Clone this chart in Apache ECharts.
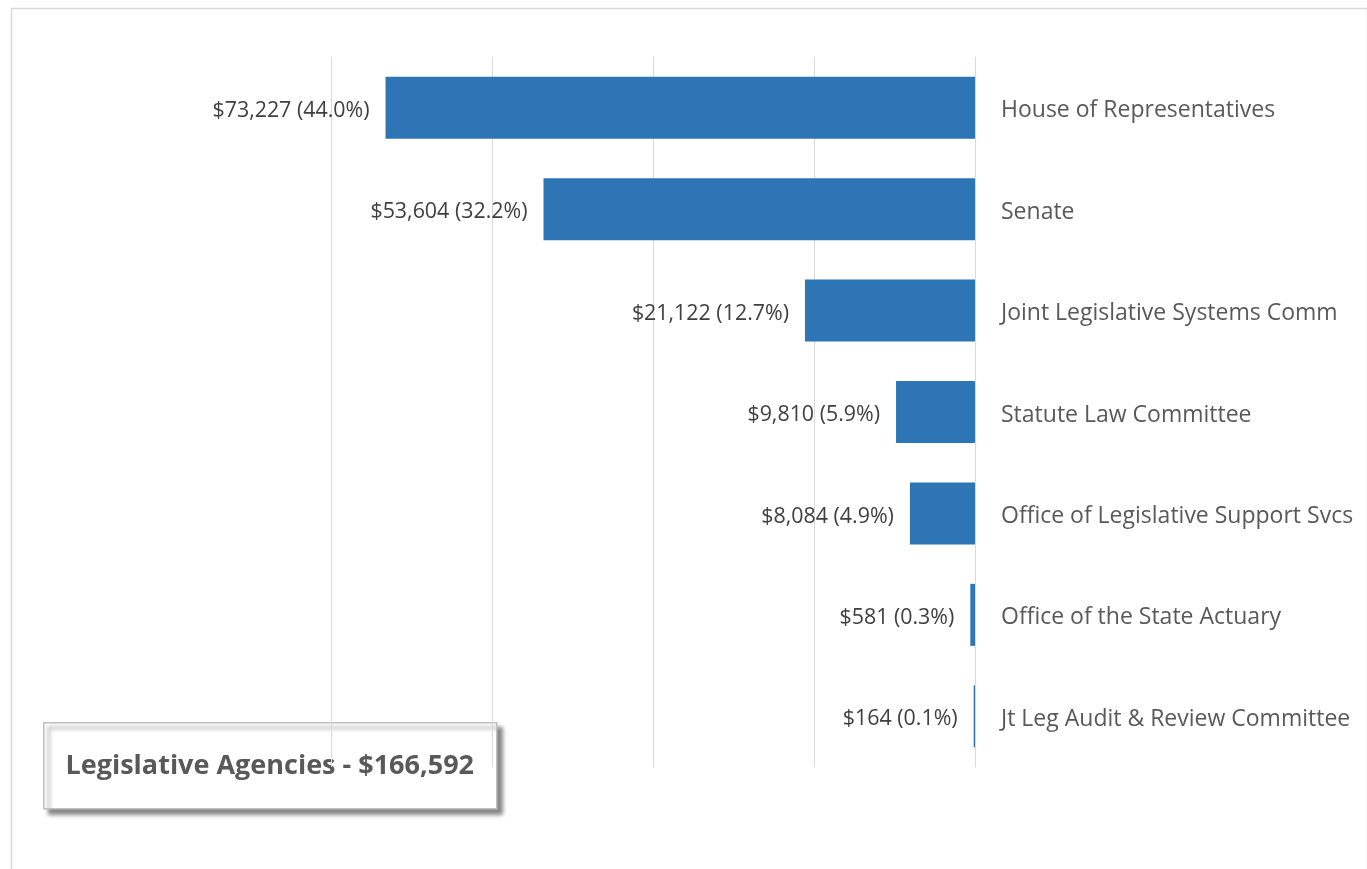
<!DOCTYPE html>
<html>
<head>
<meta charset="utf-8">
<script src="https://cdn.jsdelivr.net/npm/echarts@6/dist/echarts.min.js"></script>
<style>
html,body{margin:0;padding:0;background:#fff;}
#chart{width:1367px;height:869px;}
</style>
</head>
<body>
<div id="chart"></div>
<script>
const categories = [
  "House of Representatives",
  "Senate",
  "Joint Legislative Systems Comm",
  "Statute Law Committee",
  "Office of Legislative Support Svcs",
  "Office of the State Actuary",
  "Jt Leg Audit & Review Committee"
];
const values = [73227, 53604, 21122, 9810, 8084, 581, 164];
const percents = ["44.0%", "32.2%", "12.7%", "5.9%", "4.9%", "0.3%", "0.1%"];
const titleText = "Legislative Agencies - $166,592";
const axisTicks = [0, 20000, 40000, 60000, 80000];

const fmt = v => "$" + v.toLocaleString("en-US");

const chart = echarts.init(document.getElementById("chart"), null, {renderer: "canvas"});
chart.setOption({
  backgroundColor: "#fff",
  animation: false,
  textStyle: {fontFamily: "Open Sans"},
  grid: {left: 331, right: 392, top: 57, bottom: 102, containLabel: false},
  xAxis: {
    type: "value",
    inverse: true,
    min: axisTicks[0],
    max: axisTicks[axisTicks.length - 1],
    interval: axisTicks[1] - axisTicks[0],
    axisLabel: {show: false},
    axisLine: {show: false},
    axisTick: {show: false},
    splitLine: {show: true, lineStyle: {color: "#d9d9d9", width: 1}}
  },
  yAxis: {
    type: "category",
    data: categories,
    inverse: true,
    position: "right",
    axisLine: {show: true, lineStyle: {color: "#d9d9d9", width: 1}},
    axisTick: {show: false},
    axisLabel: {
      margin: 26,
      formatter: v => "{c|" + v + "}",
      rich: {
        c: {
          color: "#595959",
          fontSize: 23,
          fontFamily: "Open Sans",
          padding: [6, 0, 0, 0]
        }
      }
    }
  },
  series: [{
    type: "bar",
    data: values,
    barWidth: 62,
    itemStyle: {color: "#2E75B6"},
    label: {
      show: true,
      position: "left",
      distance: 16,
      offset: [0, 3],
      color: "#404040",
      fontSize: 21.4,
      fontFamily: "Open Sans",
      formatter: p => fmt(p.value) + " (" + percents[p.dataIndex] + ")"
    }
  }],
  graphic: [
    {
      type: "rect",
      left: 9, top: 6,
      shape: {width: 1356, height: 870},
      style: {fill: "none", stroke: "#d9d9d9", lineWidth: 1.5},
      silent: true
    },
    {
      type: "group",
      left: 43, top: 722,
      children: [
        {
          type: "rect",
          shape: {x: 0, y: 0, width: 453, height: 86},
          style: {
            fill: "#fff", stroke: "#bfbfbf", lineWidth: 1.5,
            shadowBlur: 4, shadowColor: "rgba(0,0,0,0.45)",
            shadowOffsetX: 5, shadowOffsetY: 5
          }
        },
        {
          type: "text",
          x: 226, y: 44,
          style: {
            text: titleText,
            fill: "#595959",
            font: "bold 27px 'Open Sans'",
            align: "center",
            verticalAlign: "middle"
          }
        }
      ]
    }
  ]
});
</script>
</body>
</html>
